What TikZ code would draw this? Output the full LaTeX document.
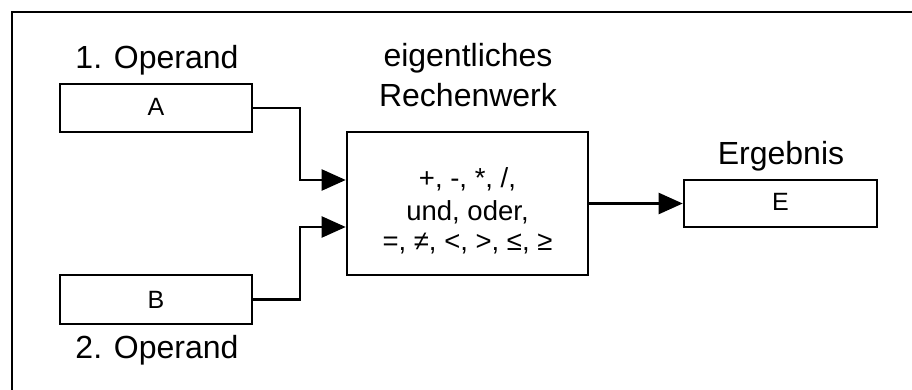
\documentclass[tikz,border=0pt]{standalone}
\usepackage{fontspec}
\setmainfont{Liberation Sans}
\usetikzlibrary{arrows.meta}
\begin{document}
\begin{tikzpicture}[x=1pt,y=-1pt,
  box/.style={draw,line width=2.6pt,inner sep=0pt},
  boxtxt/.style={anchor=base,inner sep=0pt,font=\fontsize{25}{30}\selectfont},
  optxt/.style={anchor=base,inner sep=0pt,font=\fontsize{27.5}{31}\selectfont},
  lbl/.style={anchor=base,inner sep=0pt,font=\fontsize{32}{38}\selectfont},
  conn/.style={line width=2.3pt,-{Triangle[length=24pt,width=21pt]}}]
\useasboundingbox (0,0) rectangle (912,390);
\fill[white] (0,0) rectangle (912,390);
\draw[line width=2.8pt] (912,12) -- (12,12) -- (12,390);
% boxes
\node[box,minimum width=192pt,minimum height=48pt] (A) at (156,108) {};
\node[boxtxt] (Atxt) at (156,116) {A};
\node[box,minimum width=192pt,minimum height=49pt] (B) at (156,299.5) {};
\node[boxtxt] (Btxt) at (156,308) {B};
\node[box,minimum width=241pt,minimum height=143pt] (C) at (467.5,203.5) {};
\node[optxt] (c1) at (467.5,188) {+, -, *, /,};
\node[optxt] (c2) at (467.5,220) {und, oder,};
\node[optxt] (c3) at (467.5,250) {=, ≠, <, >, ≤, ≥};
\node[box,minimum width=193pt,minimum height=47pt] (E) at (780.5,203.5) {};
\node[boxtxt] (Etxt) at (780.5,211) {E};
% labels
\node[lbl] (l1) at (157,69) {1. Operand};
\node[lbl] (l2) at (157,358) {2. Operand};
\node[lbl] (l3) at (468,67) {eigentliches};
\node[lbl] (l4) at (468,107) {Rechenwerk};
\node[lbl] (l5) at (781,165) {Ergebnis};
% connectors
\coordinate (ja) at (300,108);
\coordinate (jb) at (300,299.5);
\draw[conn] (A.east) -- (ja) |- ([yshift=23.5pt]C.west);
\draw[conn] (B.east) -- (jb) |- ([yshift=-23.5pt]C.west);
\draw[conn] (C.east) -- (E.west);
\end{tikzpicture}
\end{document}
